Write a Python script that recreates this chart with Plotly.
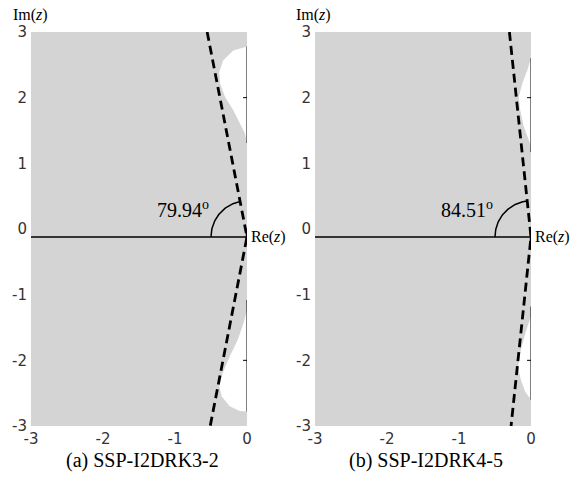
import numpy as np
import plotly.graph_objects as go

# ---------------------------------------------------------------- data
panel_titles = ["(a) SSP-I2DRK3-2", "(b) SSP-I2DRK4-5"]
angles_deg = [79.94, 84.51]

# Unstable lobes cut out of the right edge of each stability region
# (upper lobe from its top point downwards, lower lobe from its top downwards)
a_upper_x = [0.0, -0.19, -0.33, -0.385, -0.375, -0.305, -0.19, -0.10, -0.03, 0.0]
a_upper_y = [2.78, 2.72, 2.57, 2.39, 2.22, 2.01, 1.81, 1.61, 1.46, 1.31]
a_lower_x = [0.0, -0.05, -0.13, -0.24, -0.34, -0.385, -0.35, -0.24, -0.10, 0.0]
a_lower_y = [-1.23, -1.44, -1.69, -1.94, -2.20, -2.40, -2.55, -2.70, -2.77, -2.78]

b_upper_x = [0.0, -0.05, -0.12, -0.17, -0.15, -0.10, -0.03, 0.0]
b_upper_y = [2.60, 2.42, 2.22, 2.01, 1.81, 1.56, 1.35, 1.26]
b_lower_x = [0.0, -0.08, -0.14, -0.18, -0.14, -0.08, 0.0]
b_lower_y = [-1.33, -1.59, -1.84, -2.10, -2.30, -2.48, -2.60]

# Visible pieces of the imaginary axis (inside the unstable lobes)
a_imag_segments = [(1.31, 2.78), (-1.08, -2.78)]
b_imag_segments = [(1.17, 2.60), (-1.18, -2.60)]
imag_ticks = [2, -2]

x_ticks = [-3, -2, -1, 0]
x_ticktext = ["-3", "-2", "-1", "0"]
y_ticks = [-3, -2, -1, 0, 1, 2, 3]
y_ticktext = ["-3", "-2", "-1", "0", "1", "2", "3"]

x_range = [-3, 0]
y_range = [-3, 3]
real_axis_y = -0.12  # height at which the real axis is drawn

# ---------------------------------------------------------------- layout
W, H = 574, 477
domains_x = [[31 / W, 247 / W], [315 / W, 531 / W]]
domain_y = [1 - 426 / H, 1 - 32 / H]

GREY = "#d4d4d4"
SERIF = "Liberation Serif"
SANS = "DejaVu Sans"

fig = go.Figure()

lobes = [
    (a_upper_x, a_upper_y, a_lower_x, a_lower_y, a_imag_segments),
    (b_upper_x, b_upper_y, b_lower_x, b_lower_y, b_imag_segments),
]


def line_trace(xs, ys, xa, ya, **line):
    return go.Scatter(x=xs, y=ys, mode="lines", line=line, hoverinfo="skip",
                      showlegend=False, xaxis=xa, yaxis=ya, cliponaxis=False)


for i, (ux, uy, lx, ly, segs) in enumerate(lobes):
    xa = "x" if i == 0 else "x2"
    ya = "y" if i == 0 else "y2"

    # stability region: rectangle with the lobes carved out of its right edge
    reg_x = [x_range[0], x_range[1]] + ux + lx + [x_range[1], x_range[0], x_range[0]]
    reg_y = [y_range[1], y_range[1]] + uy + ly + [y_range[0], y_range[0], y_range[1]]
    fig.add_trace(go.Scatter(x=reg_x, y=reg_y, mode="lines", fill="toself",
                             fillcolor=GREY, line=dict(width=0, color=GREY),
                             hoverinfo="skip", showlegend=False,
                             xaxis=xa, yaxis=ya))

    # imaginary-axis pieces and small ticks
    for y0, y1 in segs:
        fig.add_trace(line_trace([0, 0], [y0, y1], xa, ya, color="black", width=1))
    for t in imag_ticks:
        fig.add_trace(line_trace([-0.055, 0], [t, t], xa, ya, color="black", width=1))

    # real axis
    fig.add_trace(line_trace([x_range[0], 0], [real_axis_y, real_axis_y], xa, ya,
                             color="black", width=1.5))
    fig.add_trace(line_trace([0, 0], [real_axis_y - 0.09, real_axis_y + 0.11], xa, ya,
                             color="black", width=2.5))

    # sector boundary lines at the given angle
    th = np.deg2rad(angles_deg[i])
    cot = np.cos(th) / np.sin(th)
    lx_top = -(y_range[1] - real_axis_y) * cot
    lx_bot = -(real_axis_y - y_range[0]) * cot
    fig.add_trace(line_trace([lx_top, 0, lx_bot],
                             [y_range[1], real_axis_y, y_range[0]], xa, ya,
                             color="black", width=2.8, dash="9px,5px"))

    # angle arc, circular on screen
    px_x = (domains_x[i][1] - domains_x[i][0]) * W / (x_range[1] - x_range[0])
    px_y = (domain_y[1] - domain_y[0]) * H / (y_range[1] - y_range[0])
    alpha = np.arctan(np.tan(th) * px_y / px_x)
    r_px = 36
    phi = np.linspace(np.pi, np.pi - alpha, 60)
    fig.add_trace(line_trace(r_px / px_x * np.cos(phi),
                             real_axis_y + r_px / px_y * np.sin(phi), xa, ya,
                             color="black", width=1.5))

    # angle label
    fig.add_annotation(x=-0.89, y=0.30, xref=xa, yref=ya, showarrow=False,
                       xanchor="center", yanchor="middle",
                       text=f"{angles_deg[i]:.2f}<sup>o</sup>",
                       font=dict(family=SERIF, size=20, color="black"))
    # Re(z) label, just right of the real axis end
    fig.add_annotation(x=0, y=real_axis_y, xref=xa, yref=ya, showarrow=False,
                       xanchor="left", yanchor="middle", xshift=2,
                       text="Re(<i>z</i>)",
                       font=dict(family=SERIF, size=16, color="black"))
    # Im(z) label
    fig.add_annotation(x=(domains_x[i][0] * W - 1) / W, y=1 - 15 / H,
                       xref="paper", yref="paper", showarrow=False,
                       xanchor="center", yanchor="middle",
                       text="Im(<i>z</i>)",
                       font=dict(family=SERIF, size=16, color="black"))
    # caption
    fig.add_annotation(x=(domains_x[i][0] * W + 111) / W, y=1 - 460 / H,
                       xref="paper", yref="paper", showarrow=False,
                       xanchor="center", yanchor="middle",
                       text=panel_titles[i],
                       font=dict(family=SERIF, size=20, color="black"))

axis_common = dict(showgrid=False, zeroline=False, showline=False, ticks="",
                   tickfont=dict(family=SANS, size=15, color="#333333"),
                   fixedrange=True, automargin=False)

fig.update_layout(
    width=W, height=H, autosize=False,
    margin=dict(l=0, r=0, t=0, b=0, pad=0),
    paper_bgcolor="white", plot_bgcolor="white",
    showlegend=False,
    xaxis=dict(domain=domains_x[0], range=x_range, anchor="y",
               tickvals=x_ticks, ticktext=x_ticktext, ticklabelstandoff=2,
               **axis_common),
    yaxis=dict(domain=domain_y, range=y_range, anchor="x",
               tickvals=y_ticks, ticktext=y_ticktext, ticklabelstandoff=3,
               **axis_common),
    xaxis2=dict(domain=domains_x[1], range=x_range, anchor="y2",
                tickvals=x_ticks, ticktext=x_ticktext, ticklabelstandoff=2,
                **axis_common),
    yaxis2=dict(domain=domain_y, range=y_range, anchor="x2",
                tickvals=y_ticks, ticktext=y_ticktext, ticklabelstandoff=3,
                **axis_common),
)

fig.write_html("out.html")
